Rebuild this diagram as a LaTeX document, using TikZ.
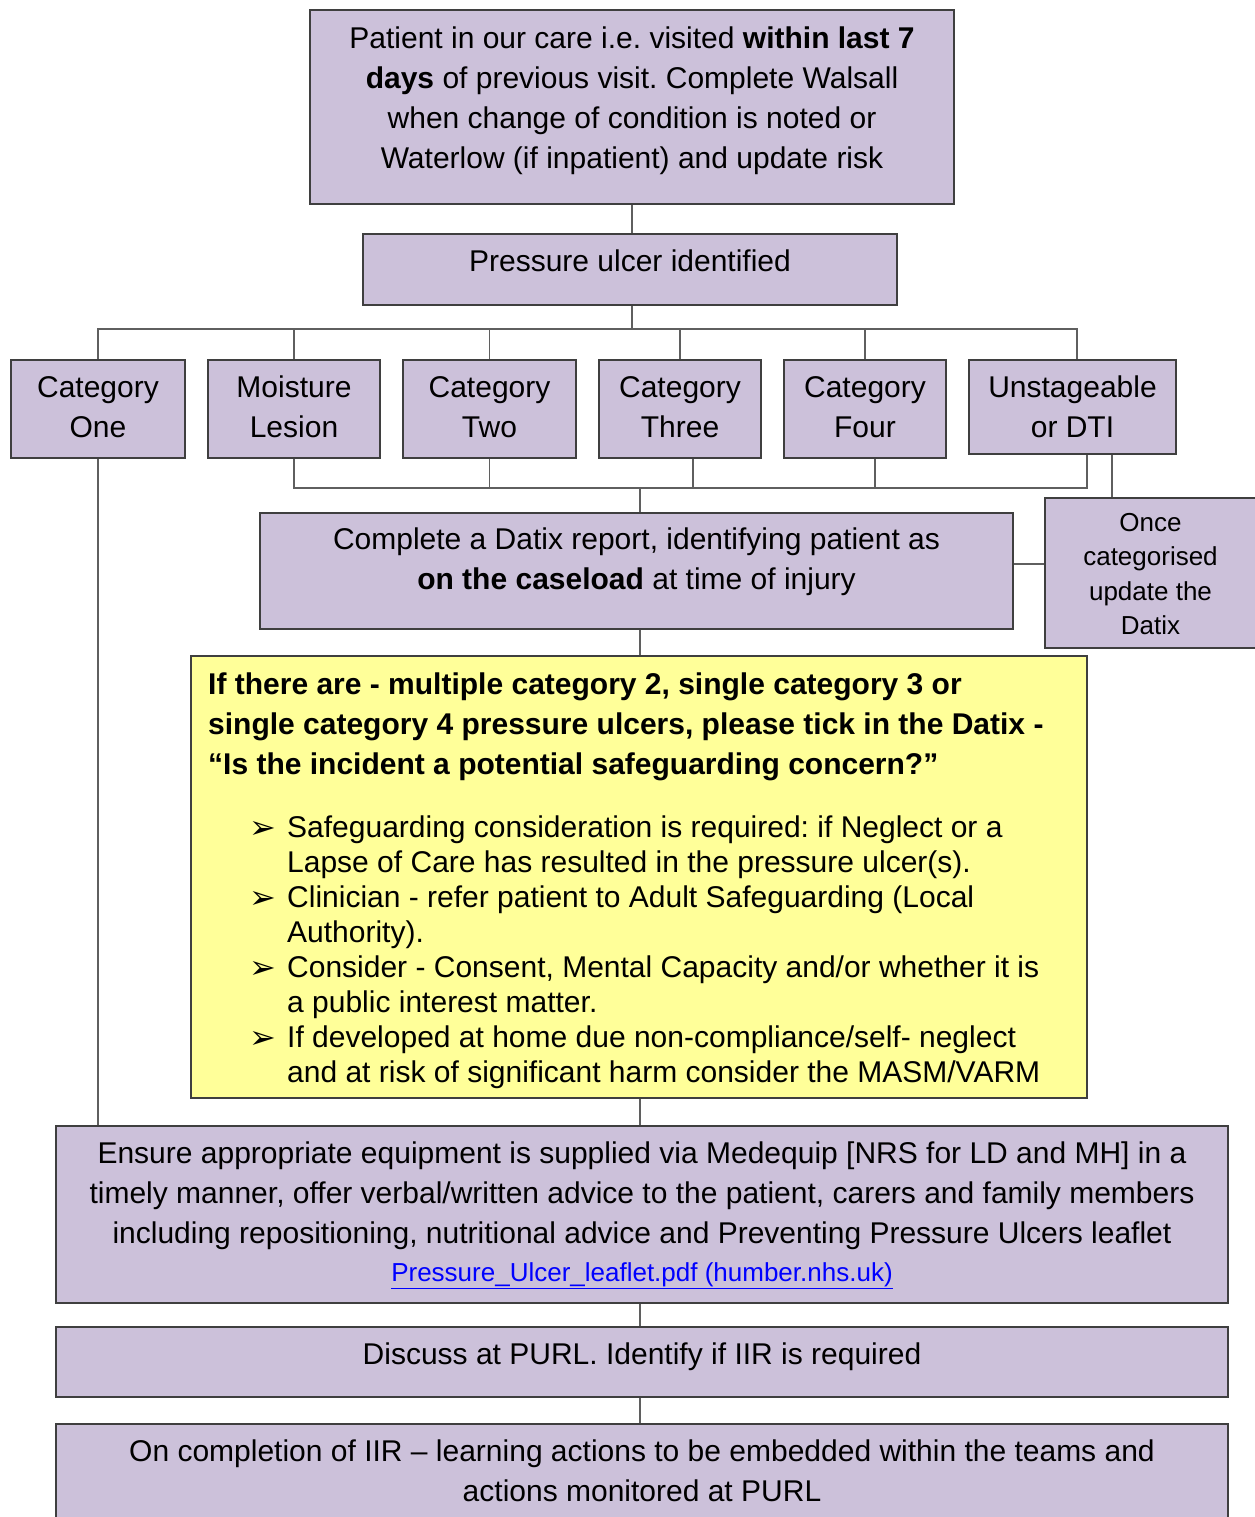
\documentclass[tikz,border=0pt]{standalone}
\usepackage{fontspec}
\setmainfont{Liberation Sans}
\newfontfamily\dingfont{DejaVu Sans}
\usetikzlibrary{calc, positioning}
\definecolor{PUlilac}{HTML}{CCC1DA}
\definecolor{PUyellow}{HTML}{FFFF99}
\definecolor{PUborder}{HTML}{3F3F3F}
\definecolor{PUline}{HTML}{5F5F5F}
\definecolor{PUlink}{HTML}{0000FF}

\begin{document}
\begin{tikzpicture}[x = 1pt, y = -1pt]%
    %
    \def\bigtext{\fontsize{30}{40}\selectfont\frenchspacing}%
    \def\smalltext{\fontsize{26}{34.5}\selectfont\frenchspacing}%
    \def\itemtext{\fontsize{30}{35}\selectfont\frenchspacing}%
    \def\arrowbullet{\makebox[38pt][l]{\raisebox{-1pt}{\dingfont\fontsize{32}{32}\selectfont ➢}}}%
    \def\itemgap{\makebox[38pt]{}}%
    %
    \tikzstyle{box} = [rectangle, draw = PUborder, line width = 2pt, fill = PUlilac, inner sep = 0pt]%
    \tikzstyle{note} = [box, fill = PUyellow]%
    \tikzstyle{boxtext} = [inner sep = 0pt, align = center, font = \bigtext]%
    \tikzstyle{connector} = [draw = PUline, line width = 1.5pt]%
    %
    \useasboundingbox (0, 0) rectangle (1254, 1517);%
    %
    % boxes
    \node [box, minimum width = 644pt, minimum height = 194pt] (care) at (632, 107) {};%
    \node [box, minimum width = 534pt, minimum height = 71pt] (ulcer) at (630, 269.5) {};%
    \node [box, minimum width = 174pt, minimum height = 98pt] (cat1) at (98, 409) {};%
    \node [box, minimum width = 172pt, minimum height = 98pt] (moist) at (294, 409) {};%
    \node [box, minimum width = 173pt, minimum height = 98pt] (cat2) at (489.5, 409) {};%
    \node [box, minimum width = 162pt, minimum height = 98pt] (cat3) at (680, 409) {};%
    \node [box, minimum width = 162pt, minimum height = 98pt] (cat4) at (865, 409) {};%
    \node [box, minimum width = 207pt, minimum height = 94pt] (unst) at (1072.5, 407) {};%
    \node [box, minimum width = 753pt, minimum height = 116pt] (datix) at (636.5, 571) {};%
    \node [box, minimum width = 211pt, minimum height = 150pt] (once) at (1150.5, 573) {};%
    \node [note, minimum width = 896pt, minimum height = 442pt] (safe) at (639, 877) {};%
    \node [box, minimum width = 1172pt, minimum height = 177pt] (equip) at (642, 1214.5) {};%
    \node [box, minimum width = 1172pt, minimum height = 70pt] (purl) at (642, 1362) {};%
    \node [box, minimum width = 1172pt, minimum height = 106pt] (iir) at (642, 1477) {};%
    %
    % texts
    \node [boxtext, below = 18pt of care.north] (careT) {Patient in our care i.e. visited \textbf{within last 7}\\ \textbf{days} of previous visit. Complete Walsall\\ when change of condition is noted or\\ Waterlow (if inpatient) and update risk};%
    \node [boxtext, below = 17pt of ulcer.north] (ulcerT) {Pressure ulcer identified};%
    \node [boxtext, below = 17pt of cat1.north] (cat1T) {Category\\ One};%
    \node [boxtext, below = 17pt of moist.north] (moistT) {Moisture\\ Lesion};%
    \node [boxtext, below = 17pt of cat2.north] (cat2T) {Category\\ Two};%
    \node [boxtext, below = 17pt of cat3.north] (cat3T) {Category\\ Three};%
    \node [boxtext, below = 17pt of cat4.north] (cat4T) {Category\\ Four};%
    \node [boxtext, below = 17pt of unst.north] (unstT) {Unstageable\\ or DTI};%
    \node [boxtext, below = 16pt of datix.north] (datixT) {Complete a Datix report, identifying patient as\\ \textbf{on the caseload} at time of injury};%
    \node [boxtext, font = \smalltext, below = 16pt of once.north] (onceT) {Once\\ categorised\\ update the\\ Datix};%
    \node [boxtext, align = left, font = \bigtext\bfseries, below right = 18pt and 18pt of safe.north west] (safeH) {If there are - multiple category 2, single category 3 or\\ single category 4 pressure ulcers, please tick in the Datix -\\ “Is the incident a potential safeguarding concern?”};%
    \node [boxtext, align = left, font = \itemtext, below right = 161pt and 59pt of safe.north west] (safeL) {%
        \arrowbullet Safeguarding consideration is required: if Neglect or a\\
        \itemgap Lapse of Care has resulted in the pressure ulcer(s).\\
        \arrowbullet Clinician - refer patient to Adult Safeguarding (Local\\
        \itemgap Authority).\\
        \arrowbullet Consider - Consent, Mental Capacity and/or whether it is\\
        \itemgap a public interest matter.\\
        \arrowbullet If developed at home due non-compliance/self- neglect\\
        \itemgap and at risk of significant harm consider the MASM/VARM};%
    \node [boxtext, below = 17pt of equip.north] (equipT) {Ensure appropriate equipment is supplied via Medequip [NRS for LD and MH] in a\\ timely manner, offer verbal/written advice to the patient, carers and family members\\ including repositioning, nutritional advice and Preventing Pressure Ulcers leaflet};%
    \node [boxtext, font = \smalltext, text = PUlink, below = 137pt of equip.north] (equipL) {\underline{Pressure\_Ulcer\_leaflet.pdf (humber.nhs.uk)}};%
    \node [boxtext, below = 17pt of purl.north] (purlT) {Discuss at PURL. Identify if IIR is required};%
    \node [boxtext, below = 17pt of iir.north] (iirT) {On completion of IIR -- learning actions to be embedded within the teams and\\ actions monitored at PURL};%
    %
    % connectors
    \coordinate (busT) at (632, 330);%
    \coordinate (busB) at (640, 488);%
    \coordinate (unstL) at ($(unst.south)+(14.5, 0)$);%
    \coordinate (unstR) at ($(unst.south)+(39.5, 0)$);%
    \coordinate (datixE) at ($(datix.east)+(0, -7)$);%
    \draw [connector] (care.south) -- (care.south |- ulcer.north);%
    \draw [connector] (ulcer.south -| busT) -- (busT);%
    \draw [connector] (cat1.north) |- ($(unst.north)+(4.5, -30)$) -- ($(unst.north)+(4.5, 0)$);%
    \foreach \n in {moist, cat2, cat3, cat4} {%
        \draw [connector] (\n.north) -- (\n.north |- busT);%
    }%
    \draw [connector] (moist.south) |- (unstL |- busB) -- (unstL);%
    \draw [connector] (cat2.south) -- (cat2.south |- busB);%
    \draw [connector] ($(cat3.south)+(13, 0)$) -- ($(cat3.south)+(13, 30)$);%
    \draw [connector] ($(cat4.south)+(10, 0)$) -- ($(cat4.south)+(10, 30)$);%
    \draw [connector] (unstR) -- (unstR |- once.north);%
    \draw [connector] (busB) -- (busB |- datix.north);%
    \draw [connector] (datixE) -- (datixE -| once.west);%
    \draw [connector] (busB |- datix.south) -- (busB |- safe.north);%
    \draw [connector] (busB |- safe.south) -- (busB |- equip.north);%
    \draw [connector] (cat1.south) -- (cat1.south |- equip.north);%
    \draw [connector] (busB |- equip.south) -- (busB |- purl.north);%
    \draw [connector] (busB |- purl.south) -- (busB |- iir.north);%
\end{tikzpicture}
\end{document}
